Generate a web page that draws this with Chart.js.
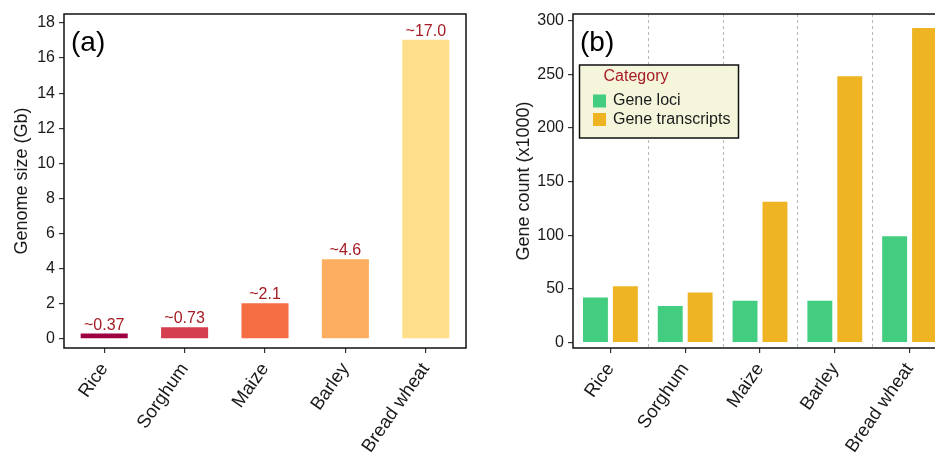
<!DOCTYPE html>
<html>
<head>
<meta charset="utf-8">
<script src="https://cdn.jsdelivr.net/npm/chart.js@4.4.0/dist/chart.umd.min.js"></script>
<style>
	html, body { margin: 0; padding: 0; background: #fff; overflow: hidden; width: 935px; height: 456px; }
	#chart_a { position: absolute; left: 0; top: 0; }
	#chart_b { position: absolute; left: 500px; top: 0; }
</style>
</head>
<body>
<canvas id="chart_a" width="480" height="456"></canvas>
<canvas id="chart_b" width="460" height="456"></canvas>
<script>

// data
var crops = ["Rice", "Sorghum", "Maize", "Barley", "Bread wheat"];
var genomeSize = [0.37, 0.73, 2.1, 4.6, 17.1];
var genomeLabels = ["~0.37", "~0.73", "~2.1", "~4.6", "~17.0"];
var genomeTicks = [0, 2, 4, 6, 8, 10, 12, 14, 16, 18];
var geneLoci = [43, 35, 40, 40, 100];
var geneTranscripts = [53.5, 47.5, 132, 249, 294];
var geneTicks = [0, 50, 100, 150, 200, 250, 300];
var seriesNames = ["Gene loci", "Gene transcripts"];

var fontFamily = "'Liberation Sans', Arial, sans-serif";
var textColor = "#1a1a1a";
var labelRed = "#a51c24";

Chart.defaults.font.family = fontFamily;
Chart.defaults.color = textColor;
Chart.defaults.animation = false;

// box around the plot area
var frame_plugin = {
	id: 'frame',
	afterDraw: function(chart){
		var a = chart.chartArea, ctx = chart.ctx;
		ctx.save();
		ctx.strokeStyle = "#111";
		ctx.lineWidth = 1.5;
		ctx.strokeRect(a.left, a.top, a.right - a.left, a.bottom - a.top);
		ctx.restore();
	}
};

function panel_tag(text){
	return {
		id: 'tag',
		afterDraw: function(chart){
			var ctx = chart.ctx;
			ctx.save();
			ctx.font = "28px " + fontFamily;
			ctx.fillStyle = "#000";
			ctx.textBaseline = "alphabetic";
			ctx.textAlign = "left";
			ctx.fillText(text, chart.chartArea.left + 7, 51);
			ctx.restore();
		}
	};
}

function fixed_y(width, title, titlePad, ticks, min, max){
	return {
		min: min,
		max: max,
		afterFit: function(scale){ scale.width = width; },
		afterBuildTicks: function(scale){
			scale.ticks = ticks.map(function(v){ return { value: v }; });
		},
		border: { display: false },
		grid: { drawOnChartArea: false, tickLength: 5, color: "#333", lineWidth: 1.2 },
		ticks: { padding: 4, color: textColor, font: { size: 16 } },
		title: { display: true, text: title, color: textColor, font: { size: 18 }, padding: { top: titlePad, bottom: 0 } }
	};
}

function fixed_x(){
	return {
		afterFit: function(scale){ scale.height = 108; },
		border: { display: false },
		grid: { offset: false, drawOnChartArea: false, tickLength: 5, color: "#333", lineWidth: 1.2 },
		ticks: { maxRotation: 55, minRotation: 55, padding: 6, color: textColor, font: { size: 18.5 } }
	};
}

function init_chart_a(){

	if( typeof (Chart) === 'undefined'){ return; }

	var value_labels = {
		id: 'valueLabels',
		afterDatasetsDraw: function(chart){
			var ctx = chart.ctx;
			var meta = chart.getDatasetMeta(0);
			ctx.save();
			ctx.font = "16px " + fontFamily;
			ctx.fillStyle = labelRed;
			ctx.textAlign = "center";
			ctx.textBaseline = "alphabetic";
			meta.data.forEach(function(bar, i){
				ctx.fillText(genomeLabels[i], bar.x, bar.y - 3);
			});
			ctx.restore();
		}
	};

	var chart_bar_settings = {
		type: 'bar',
		data: {
			labels: crops,
			datasets: [{
				data: genomeSize,
				backgroundColor: [
					"#9E0142",
					"#D53E4F",
					"#F46D43",
					"#FDAE61",
					"#FEE08B"
				],
				borderColor: "rgba(255,255,255,0.5)",
				borderWidth: 1,
				categoryPercentage: 0.61,
				barPercentage: 1
			}]
		},
		options: {
			responsive: false,
			layout: { padding: { left: 0, right: 14, top: 14, bottom: 0 } },
			plugins: { legend: { display: false }, tooltip: { enabled: false } },
			scales: {
				x: fixed_x(),
				y: fixed_y(64, "Genome size (Gb)", 11, genomeTicks, -0.51, 18.51)
			}
		},
		plugins: [value_labels, frame_plugin, panel_tag("(a)")]
	};

	new Chart(document.getElementById('chart_a'), chart_bar_settings);
}

function init_chart_b(){

	if( typeof (Chart) === 'undefined'){ return; }

	// dashed separators between crops
	var separators = {
		id: 'separators',
		beforeDatasetsDraw: function(chart){
			var xs = chart.scales.x, a = chart.chartArea, ctx = chart.ctx;
			ctx.save();
			ctx.strokeStyle = "#b8b8b8";
			ctx.lineWidth = 1;
			ctx.setLineDash([3, 3]);
			for (var i = 0; i < crops.length - 1; i++){
				var px = Math.round((xs.getPixelForValue(i) + xs.getPixelForValue(i + 1)) / 2) + 0.5;
				ctx.beginPath();
				ctx.moveTo(px, a.top);
				ctx.lineTo(px, a.bottom);
				ctx.stroke();
			}
			ctx.restore();
		}
	};

	var legend_box = {
		id: 'legendBox',
		afterDraw: function(chart){
			var ctx = chart.ctx;
			var x0 = 79.5, y0 = 65, w = 159, h = 73;
			ctx.save();
			ctx.fillStyle = "#F5F5DC";
			ctx.fillRect(x0, y0, w, h);
			ctx.strokeStyle = "#111";
			ctx.lineWidth = 1.5;
			ctx.strokeRect(x0, y0, w, h);
			ctx.font = "16px " + fontFamily;
			ctx.textBaseline = "middle";
			ctx.textAlign = "center";
			ctx.fillStyle = labelRed;
			ctx.fillText("Category", 136, 77);
			ctx.textAlign = "left";
			chart.data.datasets.forEach(function(ds, i){
				var cy = 101 + i * 18.5;
				ctx.fillStyle = ds.backgroundColor;
				ctx.fillRect(93, cy - 6.5, 13, 13);
				ctx.fillStyle = textColor;
				ctx.fillText(ds.label, 113, cy);
			});
			ctx.restore();
		}
	};

	var chart_bar_settings = {
		type: 'bar',
		data: {
			labels: crops,
			datasets: [{
				label: seriesNames[0],
				data: geneLoci,
				backgroundColor: "#43CD80",
				borderColor: "rgba(255,255,255,0.5)",
				borderWidth: 1,
				categoryPercentage: 0.8,
				barPercentage: 0.9
			}, {
				label: seriesNames[1],
				data: geneTranscripts,
				backgroundColor: "#EEB422",
				borderColor: "rgba(255,255,255,0.5)",
				borderWidth: 1,
				categoryPercentage: 0.8,
				barPercentage: 0.9
			}]
		},
		options: {
			responsive: false,
			layout: { padding: { left: 0, right: 13, top: 14, bottom: 0 } },
			plugins: { legend: { display: false }, tooltip: { enabled: false } },
			scales: {
				x: fixed_x(),
				y: fixed_y(73, "Gene count (x1000)", 13, geneTicks, -5, 306)
			}
		},
		plugins: [separators, frame_plugin, legend_box, panel_tag("(b)")]
	};

	new Chart(document.getElementById('chart_b'), chart_bar_settings);
}

init_chart_a();
init_chart_b();

</script>
</body>
</html>
